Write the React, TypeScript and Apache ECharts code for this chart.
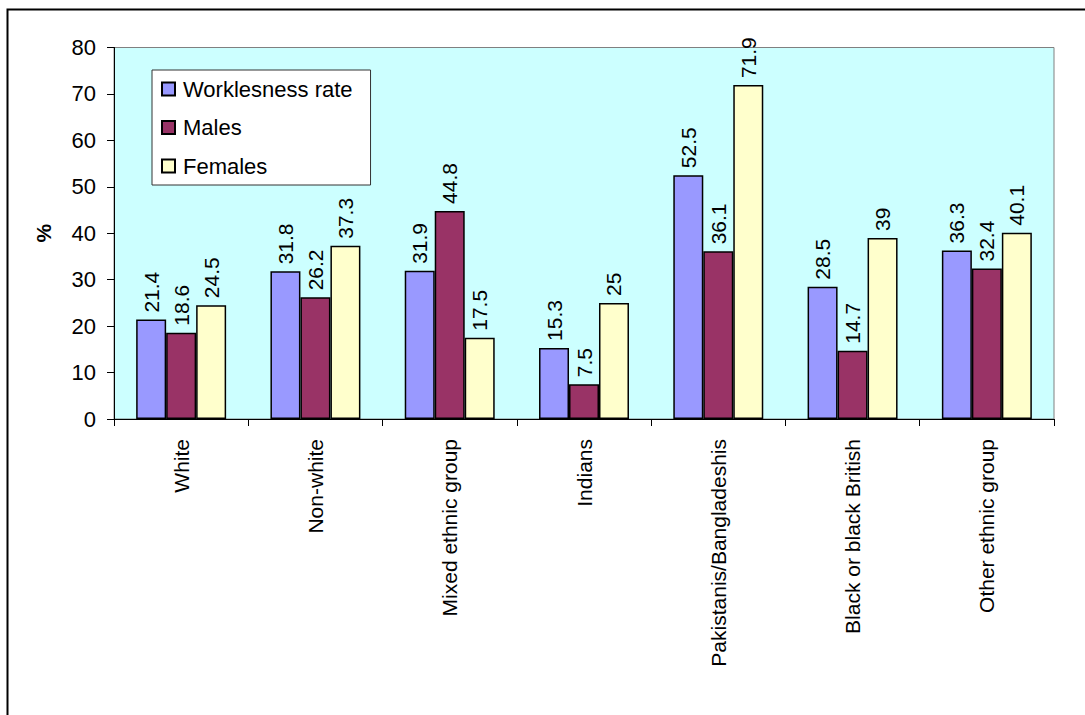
import React, { useEffect, useRef } from "react";
import * as echarts from "echarts";

const categories = [
  "White",
  "Non-white",
  "Mixed ethnic group",
  "Indians",
  "Pakistanis/Bangladeshis",
  "Black or black British",
  "Other ethnic group",
];
const worklessness = [21.4, 31.8, 31.9, 15.3, 52.5, 28.5, 36.3];
const males = [18.6, 26.2, 44.8, 7.5, 36.1, 14.7, 32.4];
const females = [24.5, 37.3, 17.5, 25, 71.9, 39, 40.1];
const seriesNames = ["Worklesness rate", "Males", "Females"];
const seriesColors = ["#9999FF", "#993366", "#FFFFCC"];

const FONT = "'Liberation Sans', Arial, sans-serif";

export default function App() {
  const ref = useRef<HTMLDivElement>(null);

  useEffect(() => {
    if (!ref.current) return;
    const chart = echarts.init(ref.current, undefined, { renderer: "svg" });
    const values = [worklessness, males, females];

    chart.setOption({
      animation: false,
      backgroundColor: "#FFFFFF",
      textStyle: { fontFamily: FONT, color: "#000" },
      graphic: [
        {
          type: "rect",
          shape: { x: 7.5, y: 9.5, width: 1200, height: 900 },
          style: { fill: "none", stroke: "#000", lineWidth: 2 },
          silent: true,
          z: 100,
        },
      ],
      grid: {
        left: 114,
        right: 31,
        top: 47.5,
        bottom: 296,
        show: true,
        backgroundColor: "#CCFFFF",
        borderColor: "#808080",
        borderWidth: 1,
      },
      legend: {
        orient: "vertical",
        left: 152,
        top: 70,
        padding: [7, 18, 7, 9],
        itemWidth: 13,
        itemHeight: 13,
        itemGap: 14.5,
        icon: "rect",
        backgroundColor: "#FFFFFF",
        borderColor: "#333",
        borderWidth: 1,
        textStyle: {
          fontFamily: FONT,
          fontSize: 22,
          color: "#000",
          lineHeight: 24,
          padding: [0, 0, 0, 3],
        },
        data: seriesNames,
      },
      xAxis: {
        type: "category",
        data: categories,
        axisLine: { lineStyle: { color: "#000", width: 1 } },
        axisTick: { show: true, length: 7, alignWithLabel: false, lineStyle: { color: "#000" } },
        axisLabel: {
          rotate: 90,
          interval: 0,
          margin: 20,
          fontFamily: FONT,
          fontSize: 21,
          color: "#000",
        },
      },
      yAxis: {
        type: "value",
        min: 0,
        max: 80,
        interval: 10,
        name: "%",
        nameLocation: "middle",
        nameRotate: 90,
        nameGap: 60,
        nameTextStyle: { fontFamily: FONT, fontSize: 21, fontWeight: "bold", color: "#000" },
        axisLine: { show: true, lineStyle: { color: "#000", width: 1 } },
        axisTick: { show: true, length: 7, lineStyle: { color: "#000" } },
        axisLabel: { margin: 18, fontFamily: FONT, fontSize: 22, color: "#000" },
        splitLine: { show: false },
      },
      series: seriesNames.map((name, i) => ({
        name,
        type: "bar",
        data: values[i],
        barGap: "0%",
        barCategoryGap: "33%",
        itemStyle: { color: seriesColors[i], borderColor: "#000", borderWidth: 1.5 },
        label: {
          show: true,
          position: "top",
          rotate: 90,
          align: "left",
          verticalAlign: "middle",
          distance: 7,
          fontFamily: FONT,
          fontSize: 21,
          color: "#000",
        },
      })),
    });

    return () => chart.dispose();
  }, []);

  return (
    <div
      ref={ref}
      style={{ position: "fixed", left: 0, top: 0, width: 1085, height: 715 }}
    />
  );
}
